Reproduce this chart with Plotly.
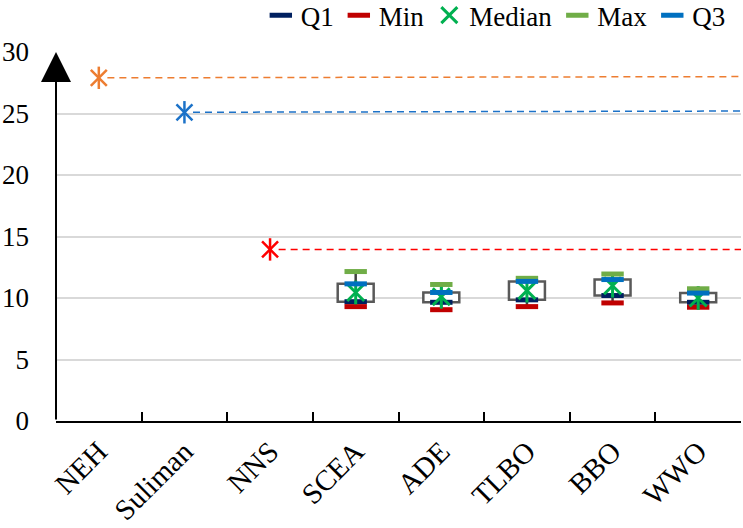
import plotly.graph_objects as go

categories = ["NEH", "Suliman", "NNS", "SCEA", "ADE", "TLBO", "BBO", "WWO"]

# single-value methods (reference lines)
ref_names = ["NEH", "Suliman", "NNS"]
ref_start = [27.9, 25.1, 13.95]
ref_end = [28.0, 25.2, 13.95]
ref_colors = ["#ED7D31", "#1C72C8", "#FF0000"]

# box statistics for population-based methods
box_names = ["SCEA", "ADE", "TLBO", "BBO", "WWO"]
q1 = [9.7, 9.65, 9.85, 10.2, 9.65]
vmin = [9.3, 9.05, 9.3, 9.6, 9.25]
median = [10.45, 10.1, 10.6, 11.0, 10.0]
vmax = [12.15, 11.1, 11.6, 11.95, 10.75]
q3 = [11.15, 10.45, 11.35, 11.5, 10.4]

y_ticks = [0, 5, 10, 15, 20, 25, 30]

FONT = "Liberation Serif, Times New Roman, serif"
idx = {c: i for i, c in enumerate(categories)}

fig = go.Figure()

# boxes (Q1..Q3)
fig.add_trace(go.Bar(
    x=box_names, y=[b - a for a, b in zip(q1, q3)], base=q1, width=0.42,
    marker=dict(color="white", line=dict(color="#595959", width=2.5)),
    showlegend=False, hoverinfo="skip"))

# whiskers
wx, wy = [], []
for n, lo, a, b, hi in zip(box_names, vmin, q1, q3, vmax):
    wx += [n, n, None, n, n, None]
    wy += [hi, b, None, a, lo, None]
fig.add_trace(go.Scatter(x=wx, y=wy, mode="lines",
                         line=dict(color="#404040", width=2.5),
                         showlegend=False, hoverinfo="skip"))

dash_size = 16
def dash_trace(vals, name, color):
    return go.Scatter(x=box_names, y=vals, mode="markers", name=name,
                      marker=dict(symbol="line-ew-open", size=dash_size, color=color,
                                  line=dict(color=color, width=5)))

fig.add_trace(dash_trace(q1, "Q1", "#002060"))
fig.add_trace(dash_trace(vmin, "Min", "#C00000"))
fig.add_trace(go.Scatter(x=box_names, y=median, mode="markers", name="Median",
                         marker=dict(symbol="x-thin-open", size=17, color="#00B050",
                                     line=dict(color="#00B050", width=3))))
fig.add_trace(go.Scatter(x=box_names, y=median, mode="markers", showlegend=False,
                         marker=dict(symbol="line-ns-open", size=17, color="#00B050",
                                     line=dict(color="#00B050", width=3))))
fig.add_trace(dash_trace(vmax, "Max", "#70AD47"))
fig.add_trace(dash_trace(q3, "Q3", "#0070C0"))

# reference lines + asterisks
shapes = []
for n, s, e, c in zip(ref_names, ref_start, ref_end, ref_colors):
    shapes.append(dict(type="line", xref="x", yref="y", x0=idx[n] + 0.1, x1=len(categories) - 0.5,
                       y0=s, y1=e, line=dict(color=c, width=1.5, dash="7px,5px")))
    for sym in ["x-thin-open", "line-ns-open"]:
        fig.add_trace(go.Scatter(x=[n], y=[s], mode="markers", showlegend=False,
                                 marker=dict(symbol=sym, size=16, color=c,
                                             line=dict(color=c, width=2.5))))

fig.update_layout(
    width=743, height=528,
    margin=dict(l=56, r=2, t=52, b=107, autoexpand=False),
    paper_bgcolor="white", plot_bgcolor="white",
    barmode="overlay",
    shapes=shapes,
    font=dict(family=FONT, size=26, color="black"),
    legend=dict(orientation="h", x=0.299, xanchor="left", y=1.165, yanchor="top",
                itemwidth=30, font=dict(family=FONT, size=27),
                bgcolor="rgba(0,0,0,0)"),
    xaxis=dict(type="category", categoryorder="array", categoryarray=categories,
               range=[-0.5, len(categories) - 0.5], tickson="boundaries",
               ticks="inside", ticklen=9, tickwidth=1.5, tickcolor="black",
               showline=True, linecolor="black", linewidth=2, automargin=False,
               showgrid=False, tickangle=-45,
               tickfont=dict(family=FONT, size=29)),
    yaxis=dict(range=[0, 30], tickvals=y_ticks, showgrid=True, automargin=False,
               gridcolor="#D9D9D9", gridwidth=1.5, zeroline=False,
               showline=False, ticks="", ticklabelstandoff=26,
               tickfont=dict(family=FONT, size=27)),
    annotations=[dict(x=-0.5, y=30, xref="x", yref="y", ax=-0.5, ay=0,
                      axref="x", ayref="y", showarrow=True, arrowhead=2,
                      arrowsize=3, arrowwidth=2, arrowcolor="black", text="")],
)

fig.write_html("out.html", config={"displayModeBar": False},
               post_script="document.body.style.margin='0';")
